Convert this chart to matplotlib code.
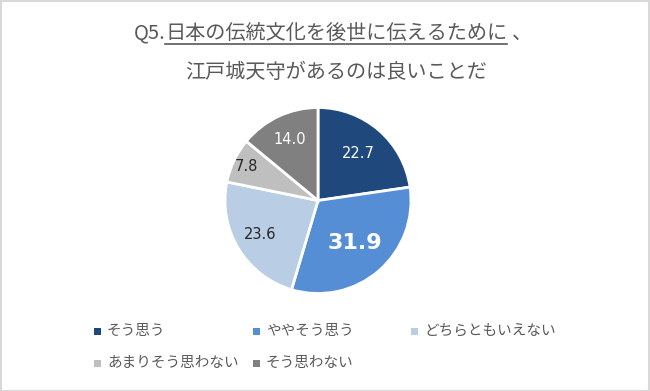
import matplotlib
matplotlib.use("Agg")
import matplotlib.pyplot as plt
from matplotlib.patches import Rectangle
from matplotlib.lines import Line2D
import numpy as np

plt.rcParams['font.family'] = ['Noto Sans CJK JP', 'DejaVu Sans']

categories = ["そう思う", "ややそう思う", "どちらともいえない", "あまりそう思わない", "そう思わない"]
values = [22.7, 31.9, 23.6, 7.8, 14.0]
colors = ["#1F497D", "#558ED5", "#B9CDE5", "#BFBFBF", "#808080"]
label_colors = ["white", "white", "#262626", "#262626", "white"]
label_sizes = [10.5, 16, 10.5, 10.5, 10.5]
label_weights = ["normal", "bold", "normal", "normal", "normal"]
label_radii = [0.67, 0.61, 0.72, 0.85, 0.72]

title_prefix = "Q5."
title_underlined = "日本の伝統文化を後世に伝えるために"
title_suffix = "、"
title_line2 = "江戸城天守があるのは良いことだ"

W, H = 650, 391
fig = plt.figure(figsize=(W / 100, H / 100), dpi=100)
fig.patch.set_facecolor("white")

# border
fig.add_artist(Rectangle((0.5 / W, 0.5 / H), 1 - 1.5 / W, 1 - 1.5 / H, transform=fig.transFigure,
                         fill=False, edgecolor="#D9D9D9", linewidth=1.5))

cx, cy, R = 318, 391 - 200.5, 93
ax = fig.add_axes([(cx - R) / W, (cy - R) / H, 2 * R / W, 2 * R / H])
wedges, _ = ax.pie(values, colors=colors, startangle=90, counterclock=False,
                   wedgeprops=dict(edgecolor="white", linewidth=2))
ax.set_xlim(-1, 1)
ax.set_ylim(-1, 1)
ax.set_aspect("equal")
ax.axis("off")

for w, v, c, s, wt, r in zip(wedges, values, label_colors, label_sizes, label_weights, label_radii):
    ang = np.deg2rad((w.theta1 + w.theta2) / 2)
    ax.text(r * np.cos(ang), r * np.sin(ang), f"{v:.1f}", ha="center", va="center",
            color=c, fontsize=s, fontweight=wt, family=["DejaVu Sans"])

# title
title_color = "#595959"
fs = 14.5
y1 = 1 - 33 / H
fig.canvas.draw()
renderer = fig.canvas.get_renderer()
parts = (title_prefix, title_underlined, title_suffix)
tmp = [fig.text(0, y1, s, fontsize=fs, color=title_color) for s in parts]
widths = [t.get_window_extent(renderer).width for t in tmp]
for t in tmp:
    t.remove()
gaps = [0, 0, 5]
total = sum(widths) + sum(gaps)
xstart = 333 - total / 2
x = xstart
for s, wdt, g in zip(parts, widths, gaps):
    x += g
    fig.text(x / W, y1, s, fontsize=fs, color=title_color, va="center", ha="left")
    x += wdt
ux0 = xstart + widths[0]
ux1 = ux0 + widths[1]
uy = 1 - 43.5 / H
fig.add_artist(Line2D([ux0 / W, ux1 / W], [uy, uy], transform=fig.transFigure,
                      color=title_color, linewidth=1.2))
fig.text(336 / W, 1 - 72 / H, title_line2, fontsize=fs, color=title_color, ha="center", va="center")

# legend
col_x = [97, 256, 414]
row_y = [331, 363]
for i, (cat, col) in enumerate(zip(categories, colors)):
    r, c = divmod(i, 3)
    x0, y0 = col_x[c], row_y[r]
    fig.add_artist(Rectangle(((x0 - 3) / W, 1 - (y0 + 4) / H), 7 / W, 7 / H,
                             transform=fig.transFigure, facecolor=col, edgecolor="none"))
    fig.text((x0 + 10) / W, 1 - y0 / H, cat, fontsize=10.5, color=title_color, va="center", ha="left")

fig.savefig("out.png", dpi=100, facecolor="white")
